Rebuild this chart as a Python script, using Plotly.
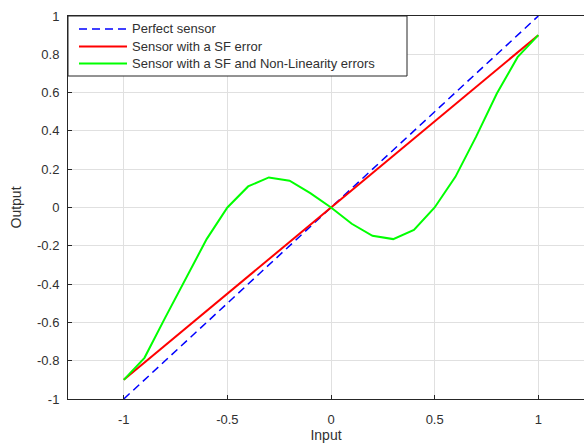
import plotly.graph_objects as go

# Input values sampled every 0.1
x_in = [-1.0, -0.9, -0.8, -0.7, -0.6, -0.5, -0.4, -0.3, -0.2, -0.1, 0.0,
        0.1, 0.2, 0.3, 0.4, 0.5, 0.6, 0.7, 0.8, 0.9, 1.0]
# Ideal sensor response
y_perfect = [-1.0, -0.9, -0.8, -0.7, -0.6, -0.5, -0.4, -0.3, -0.2, -0.1, 0.0,
             0.1, 0.2, 0.3, 0.4, 0.5, 0.6, 0.7, 0.8, 0.9, 1.0]
# Sensor with a scale-factor error
y_sf = [-0.9, -0.81, -0.72, -0.63, -0.54, -0.45, -0.36, -0.27, -0.18, -0.09, 0.0,
        0.09, 0.18, 0.27, 0.36, 0.45, 0.54, 0.63, 0.72, 0.81, 0.9]
# Sensor with scale-factor and non-linearity errors
y_sf_nl = [-0.9, -0.785, -0.575, -0.37, -0.165, 0.0, 0.11, 0.157, 0.14, 0.075, 0.0,
           -0.085, -0.148, -0.165, -0.117, 0.0, 0.16, 0.37, 0.595, 0.785, 0.9]

names = ["Perfect sensor", "Sensor with a SF error",
         "Sensor with a SF and Non-Linearity errors"]
colors = ["#0000ff", "#ff0000", "#00ff00"]
dashes = ["8px,5px", "solid", "solid"]
widths = [1.5, 2, 2]

x_ticks = [-1, -0.5, 0, 0.5, 1]
y_ticks = [-1, -0.8, -0.6, -0.4, -0.2, 0, 0.2, 0.4, 0.6, 0.8, 1]

W, H = 584, 443
ML, MT, MB, MR = 68, 16, 44, 0
PW, PH = W - ML - MR, H - MT - MB

FONT = "Liberation Sans, Arial"
TXT = "#303030"

fig = go.Figure()
for ys, nm, c, d, w in zip([y_perfect, y_sf, y_sf_nl], names, colors, dashes, widths):
    fig.add_trace(go.Scatter(x=x_in, y=ys, mode="lines", name=nm,
                             line=dict(color=c, width=w, dash=d),
                             showlegend=False))


def px_x(p):
    return (p - ML) / PW


def px_y(p):
    return (H - MB - p) / PH


# Legend box drawn in the upper-left corner of the axes
shapes = [dict(type="rect", xref="paper", yref="paper",
               x0=px_x(68), x1=px_x(407), y0=px_y(76), y1=px_y(16),
               line=dict(color="#262626", width=1), fillcolor="white", layer="above")]
annotations = []
rows = [29, 46.5, 63.5]
for r, nm, c, d, w in zip(rows, names, colors, dashes, widths):
    shapes.append(dict(type="line", xref="paper", yref="paper",
                       x0=px_x(79), x1=px_x(127), y0=px_y(r), y1=px_y(r),
                       line=dict(color=c, width=w, dash=d), layer="above"))
    annotations.append(dict(xref="paper", yref="paper", x=px_x(130), y=px_y(r),
                            xanchor="left", yanchor="middle", text=nm, showarrow=False,
                            font=dict(family=FONT, size=13, color=TXT)))

axis_common = dict(showgrid=True, gridcolor="#e0e0e0", gridwidth=1,
                   zeroline=False, showline=True, linecolor="#262626", linewidth=1,
                   ticks="inside", ticklen=4, tickcolor="#262626",
                   tickfont=dict(family=FONT, size=13, color=TXT))

fig.update_layout(
    width=W, height=H,
    margin=dict(l=ML, r=MR, t=MT, b=MB, pad=0),
    plot_bgcolor="white", paper_bgcolor="white",
    shapes=shapes, annotations=annotations,
    xaxis=dict(range=[-1.269, 1.2205], tickvals=x_ticks,
               ticktext=[f"{v:g}" for v in x_ticks], mirror=True,
               ticklabelstandoff=8,
               title=dict(text="Input", standoff=8,
                          font=dict(family=FONT, size=14, color=TXT)),
               **axis_common),
    yaxis=dict(range=[-1, 1], tickvals=y_ticks,
               ticktext=[f"{v:g}" for v in y_ticks],
               ticklabelstandoff=5,
               title=dict(text="Output", standoff=12,
                          font=dict(family=FONT, size=14, color=TXT)),
               **axis_common),
)

fig.write_html("out.html")
